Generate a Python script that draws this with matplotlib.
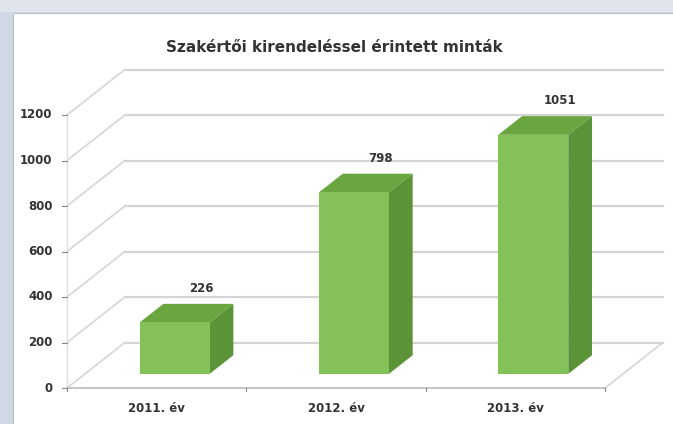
import matplotlib.pyplot as plt
import numpy as np
from matplotlib.patches import Polygon, Rectangle

categories = ["2011. év", "2012. év", "2013. év"]
values = [226, 798, 1051]
yticks = [0, 200, 400, 600, 800, 1000, 1200]
title = "Szakértői kirendeléssel érintett minták"

W, H = 673, 424
fig = plt.figure(figsize=(W / 100, H / 100), dpi=100)
fig.patch.set_facecolor("#d1d8e5")

# background: light top band + white panel
bg = fig.add_axes([0, 0, 1, 1], zorder=-1)
bg.set_xlim(0, W)
bg.set_ylim(H, 0)
bg.axis("off")
bg.add_patch(Rectangle((0, 0), W, 12, facecolor="#e0e4ec", edgecolor="none"))
bg.add_patch(Rectangle((12.5, 12.5), W, H, facecolor="white", edgecolor="#b9bfc9", lw=0.8))

# front plot area in pixels: x 67..605, y 388 (0) .. 115 (1200)
ax = fig.add_axes([67 / W, (H - 388) / H, 538 / W, (388 - 115) / H])
ax.set_xlim(-0.5, 2.5)
ax.set_ylim(0, 1200)
ax.set_facecolor("none")
for s in ax.spines.values():
    s.set_visible(False)
ax.set_xticks([])
ax.set_yticks([])

# depth offset (full depth) in data units
DX, DY = 0.323, 200
grid = "#d4d4d4"

for v in yticks:
    # back wall gridline
    ax.plot([-0.5 + DX, 2.5 + DX], [v + DY, v + DY], color=grid, lw=1.6, clip_on=False, zorder=1)
    # left wall diagonal
    ax.plot([-0.5, -0.5 + DX], [v, v + DY], color="#d8d8d8", lw=1.3, clip_on=False, zorder=1)
    ax.plot([-0.53, -0.5], [v, v], color="#888888", lw=0.8, clip_on=False, zorder=2)
    ax.text(-0.58, v, str(v), ha="right", va="center", fontsize=8.5,
            fontweight="bold", color="#333333", clip_on=False)

# floor
ax.plot([2.5, 2.5 + DX], [0, DY], color="#d8d8d8", lw=1.3, clip_on=False, zorder=1)
ax.plot([-0.5, 2.5], [0, 0], color="#bbbbbb", lw=1.2, clip_on=False, zorder=2)
ax.plot([-0.5, -0.5], [0, 1200], color="#e0e0e0", lw=1.0, clip_on=False, zorder=1)
for xt in [-0.5, 0.5, 1.5, 2.5]:
    ax.plot([xt, xt], [0, -15], color="#888888", lw=0.8, clip_on=False, zorder=2)

# 3D bars
bw = 0.39
d0, d1 = 0.31, 0.72
front_c, side_c, top_c = "#85c159", "#5b9338", "#69a640"
for i, (cat, val) in enumerate(zip(categories, values)):
    x0 = i - bw / 2 + d0 * DX
    x1 = x0 + bw
    y0 = d0 * DY
    y1 = y0 + val
    ddx, ddy = (d1 - d0) * DX, (d1 - d0) * DY
    ax.add_patch(Polygon([(x1, y0), (x1 + ddx, y0 + ddy), (x1 + ddx, y1 + ddy), (x1, y1)],
                         closed=True, facecolor=side_c, edgecolor="none", zorder=5, clip_on=False))
    ax.add_patch(Polygon([(x0, y1), (x1, y1), (x1 + ddx, y1 + ddy), (x0 + ddx, y1 + ddy)],
                         closed=True, facecolor=top_c, edgecolor="none", zorder=5, clip_on=False))
    ax.add_patch(Polygon([(x0, y0), (x1, y0), (x1, y1), (x0, y1)],
                         closed=True, facecolor=front_c, edgecolor="none", zorder=6, clip_on=False))
    ax.text(i + 0.25, y1 + ddy + 40, str(val), ha="center", va="bottom", fontsize=8.5,
            fontweight="bold", color="#333333", clip_on=False)
    ax.text(i, -60, cat, ha="center", va="top", fontsize=8.5,
            fontweight="bold", color="#333333", clip_on=False)

fig.text(0.497, 1 - 47 / H, title, ha="center", va="center", fontsize=11,
         fontweight="bold", color="#333333")

fig.savefig("out.png", dpi=100)
